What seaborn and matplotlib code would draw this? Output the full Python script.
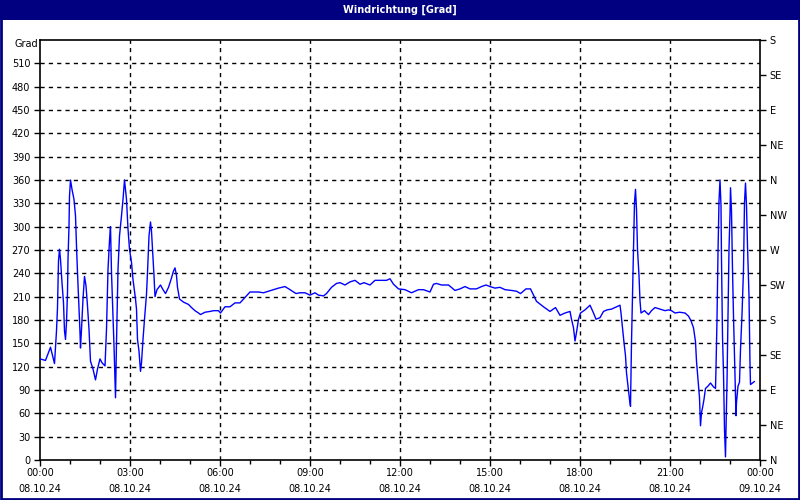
#!/usr/bin/env python3

import numpy as np
import matplotlib as mpl
mpl.use('Agg')
from matplotlib import pyplot as plt
import seaborn as sns
import pandas as pd

sns.set_style('white')
plt.rcParams['font.family'] = ['DejaVu Sans']

# minutes since 00:00 on 08.10.24 and wind direction in degrees
minutes = [0, 11, 21, 29, 33, 35, 37, 39, 41, 44, 47, 49, 51, 53, 55, 56, 58, 59, 61, 64,
           68, 71, 73, 75, 77, 80, 81, 83, 86, 89, 92, 95, 98, 101, 106, 111, 115, 120, 124, 130,
           133, 136, 139, 141, 143, 145, 148, 151, 153, 156, 159, 163, 166, 169, 173, 176, 179, 183, 186, 191,
           193, 195, 198, 201, 203, 206, 209, 213, 215, 218, 221, 223, 225, 228, 230, 234, 241, 246, 251, 257,
           262, 267, 270, 273, 275, 279, 287, 297, 303, 310, 317, 321, 330, 340, 347, 357, 361, 370, 380, 390,
           400, 410, 420, 437, 447, 457, 467, 477, 490, 500, 512, 520, 530, 540, 550, 557, 567, 573, 583, 593,
           600, 610, 620, 630, 640, 648, 660, 670, 683, 693, 700, 707, 717, 730, 743, 757, 767, 780, 787, 793,
           803, 817, 830, 840, 850, 860, 873, 883, 892, 900, 910, 920, 930, 943, 953, 961, 972, 981, 993, 1007,
           1020, 1031, 1040, 1050, 1060, 1063, 1067, 1070, 1073, 1077, 1081, 1090, 1100, 1107, 1112, 1120, 1127, 1134, 1143, 1153,
           1160, 1162, 1165, 1168, 1171, 1173, 1176, 1179, 1181, 1183, 1185, 1187, 1189, 1191, 1193, 1195, 1198, 1200, 1202, 1209,
           1217, 1223, 1230, 1240, 1250, 1257, 1263, 1270, 1279, 1290, 1297, 1302, 1307, 1311, 1313, 1316, 1319, 1321, 1323, 1325,
           1328, 1331, 1336, 1341, 1347, 1351, 1352, 1354, 1356, 1358, 1360, 1362, 1363, 1365, 1367, 1369, 1371, 1372, 1374, 1376,
           1378, 1380, 1381, 1383, 1385, 1387, 1389, 1391, 1392, 1393, 1396, 1399, 1401, 1404, 1407, 1409, 1411, 1413, 1415, 1418,
           1420, 1421, 1425, 1429]
degrees = [130, 128, 145, 124, 166, 196, 256, 271, 258, 228, 202, 166, 155, 177, 215, 258, 301, 339, 360, 348,
           335, 314, 275, 241, 211, 164, 144, 168, 207, 236, 224, 198, 168, 127, 117, 103, 117, 130, 125, 121,
           168, 245, 282, 300, 241, 202, 147, 80, 151, 245, 288, 314, 335, 360, 335, 297, 271, 254, 232, 207,
           194, 155, 140, 114, 125, 155, 181, 213, 241, 288, 306, 294, 271, 237, 210, 219, 225, 219, 214, 222,
           232, 243, 247, 237, 222, 207, 203, 200, 196, 192, 189, 187, 190, 191, 192, 192, 189, 197, 197, 202,
           202, 209, 216, 216, 215, 217, 219, 221, 223, 219, 214, 215, 215, 212, 215, 212, 211, 214, 222, 227,
           228, 225, 229, 231, 226, 228, 225, 231, 231, 231, 233, 226, 220, 219, 215, 219, 219, 216, 226, 227,
           225, 225, 218, 220, 223, 220, 220, 223, 225, 223, 221, 222, 219, 218, 217, 214, 220, 220, 204, 197,
           191, 196, 186, 189, 191, 181, 170, 153, 164, 181, 189, 193, 199, 189, 181, 183, 191, 193, 194, 197,
           199, 189, 170, 151, 134, 112, 95, 78, 69, 151, 209, 264, 331, 348, 322, 271, 237, 205, 189, 192,
           187, 192, 196, 194, 192, 193, 192, 189, 190, 189, 185, 179, 170, 152, 127, 104, 80, 44, 61, 67,
           78, 92, 95, 99, 94, 92, 118, 181, 267, 333, 360, 327, 258, 159, 112, 39, 4, 39, 100, 189,
           271, 316, 350, 320, 245, 185, 134, 82, 57, 74, 95, 100, 142, 187, 245, 331, 356, 327, 275, 211,
           123, 97, 99, 101]

left_ticks = list(range(0, 511, 30))
compass = ['N', 'NE', 'E', 'SE', 'S', 'SW', 'W', 'NW', 'N', 'NE', 'E', 'SE', 'S']
hour_ticks = [0, 3, 6, 9, 12, 15, 18, 21, 24]
hour_labels = ['00:00\n08.10.24', '03:00\n08.10.24', '06:00\n08.10.24', '09:00\n08.10.24',
               '12:00\n08.10.24', '15:00\n08.10.24', '18:00\n08.10.24', '21:00\n08.10.24',
               '00:00\n09.10.24']

df = pd.DataFrame({'hour': np.array(minutes) / 60.0, 'deg': degrees})

navy = '#000080'
fig = plt.figure(figsize=(8, 5), dpi=100)
fig.patch.set_facecolor('white')
ax = fig.add_axes([0.05, 0.08, 0.90, 0.84])

sns.lineplot(data=df, x='hour', y='deg', ax=ax, color='#0000FF', linewidth=1, zorder=3)

ax.set_xlim(0, 24)
ax.set_ylim(0, 540)
ax.set_xlabel('')
ax.set_ylabel('')
ax.set_facecolor('white')
for s in ax.spines.values():
    s.set_color('black')
    s.set_linewidth(1.2)
    s.set_visible(True)

ax.set_yticks(left_ticks)
ax.set_yticklabels([str(v) for v in left_ticks])
ax.set_xticks(hour_ticks)
ax.set_xticklabels(hour_labels, linespacing=1.75)
ax.set_xticks(range(25), minor=True)
ax.tick_params(axis='both', which='both', direction='out', colors='black', labelsize=7,
               length=4, width=1, left=True, bottom=True)
ax.tick_params(axis='x', which='minor', length=3)
ax.tick_params(axis='x', pad=2)
ax.tick_params(axis='y', pad=3)

for v in range(30, 540, 30):
    ax.axhline(v, color='black', linewidth=1, linestyle=(0, (3, 3)), zorder=1)
for h in range(3, 24, 3):
    ax.axvline(h, color='black', linewidth=1, linestyle=(0, (3, 3)), zorder=1)

ax2 = ax.twinx()
ax2.set_ylim(0, 540)
ax2.set_yticks(range(0, 541, 45))
ax2.set_yticklabels(compass)
ax2.tick_params(axis='y', direction='out', colors='black', labelsize=7, length=4, width=1, pad=3)
for s in ax2.spines.values():
    s.set_visible(False)
ax2.grid(False)

fig.text(38 / 800, 1 - 44 / 500, 'Grad', ha='right', va='center', fontsize=7, color='black')

# title bar and outer frame
fig.patches.append(mpl.patches.Rectangle((0, 1 - 20 / 500), 1, 20 / 500, transform=fig.transFigure,
                                         facecolor=navy, edgecolor='none', zorder=0))
fig.patches.append(mpl.patches.Rectangle((0.0015, 0.0025), 0.997, 0.995, transform=fig.transFigure,
                                         facecolor='none', edgecolor=navy, linewidth=2, zorder=5))
fig.text(0.5, 1 - 10 / 500, 'Windrichtung [Grad]', ha='center', va='center', fontsize=7,
         color='white', fontweight='bold')

fig.savefig('out.png', dpi=100)
